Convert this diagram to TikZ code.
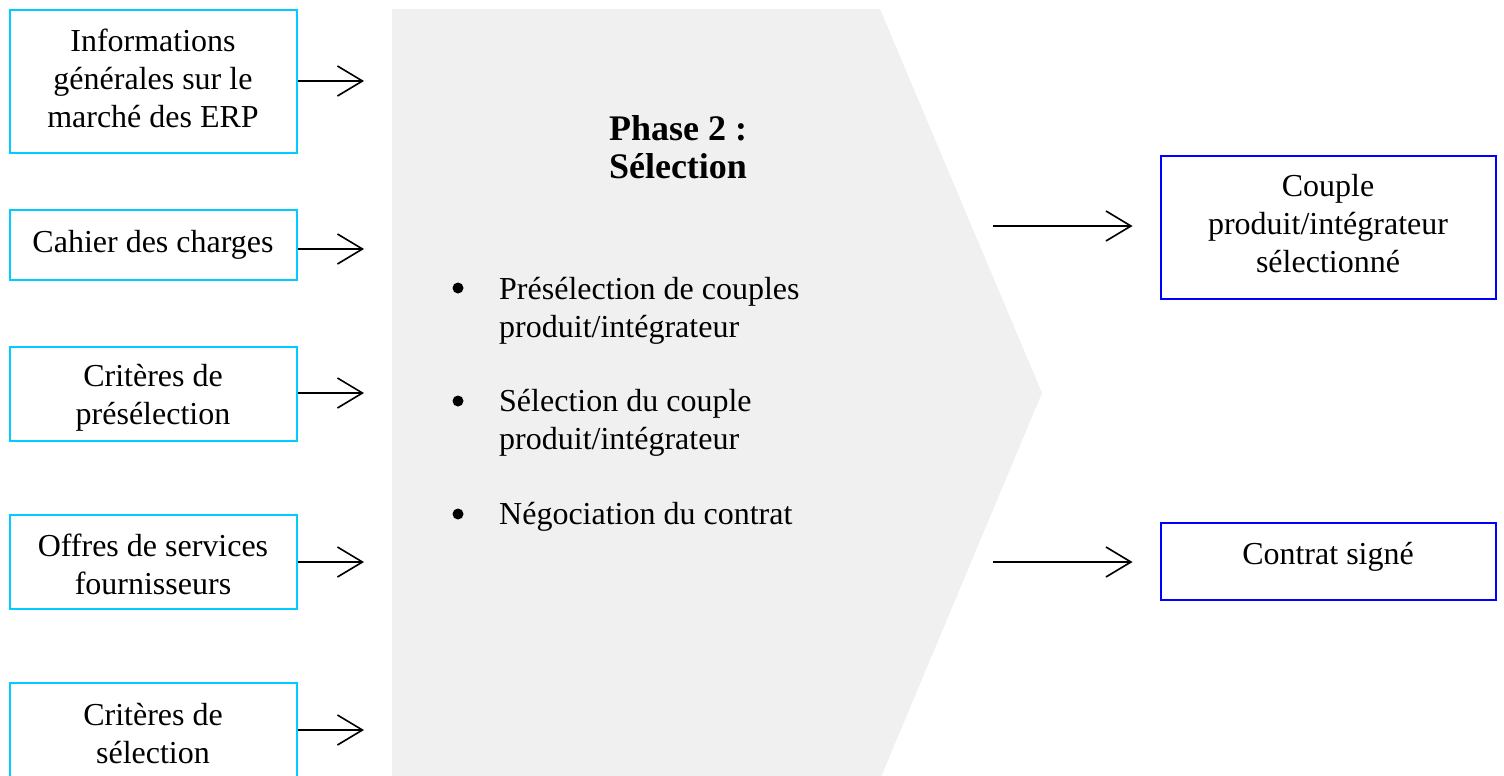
\documentclass[tikz,border=0pt]{standalone}
\usepackage{fontspec}
\setmainfont{Liberation Serif}
\usetikzlibrary{arrows.meta}

\definecolor{cinbox}{RGB}{0,204,255}
\definecolor{coutbox}{RGB}{0,0,255}
\definecolor{cphase}{RGB}{240,240,240}

% multi-line text blocks whose reference point is the first baseline
\newcommand{\stackc}[1]{\begin{tabular}[t]{@{}c@{}}#1\end{tabular}}
\newcommand{\stackl}[1]{\begin{tabular}[t]{@{}l@{}}#1\end{tabular}}

\tikzset{
  inputbox/.style={rectangle, draw=cinbox, line width=2pt, minimum width=287pt, inner sep=0pt},
  outputbox/.style={rectangle, draw=coutbox, line width=2pt, minimum width=335pt, inner sep=0pt},
  txt/.style={inner sep=0pt, anchor=base, font=\fontsize{32}{38}\selectfont},
  itemtxt/.style={inner sep=0pt, anchor=base west, font=\fontsize{32}{38}\selectfont},
  titletxt/.style={inner sep=0pt, anchor=base, font=\fontsize{36}{38}\selectfont\bfseries},
  bulletdot/.style={circle, fill=black, inner sep=0pt, minimum size=11pt},
  flow/.style={line width=1.6pt, -{Straight Barb[length=25pt,width=30pt]}},
}

\begin{document}
\begin{tikzpicture}[x=1pt, y=-1pt]
\useasboundingbox (0,0) rectangle (1504,776);
\clip (0,0) rectangle (1504,776);

% phase chevron
\fill[cphase] (392,9) -- (880,9) -- (1042,393) -- (881,777) -- (392,777) -- cycle;

% inputs
\node[inputbox, minimum height=142pt] (in1) at (153,81.5) {};
\node[inputbox, minimum height=70pt]  (in2) at (153,244.5) {};
\node[inputbox, minimum height=94pt]  (in3) at (153,393.5) {};
\node[inputbox, minimum height=94pt]  (in4) at (153,561.5) {};
\node[inputbox, minimum height=120pt] (in5) at (153,743) {};

\node[txt] (in1t) at (153,52)  {\stackc{Informations\\générales sur le\\marché des ERP}};
\node[txt] (in2t) at (153,252) {Cahier des charges};
\node[txt] (in3t) at (153,386) {\stackc{Critères de\\présélection}};
\node[txt] (in4t) at (153,556) {\stackc{Offres de services\\fournisseurs}};
\node[txt] (in5t) at (153,725) {\stackc{Critères de\\sélection}};

% phase content
\node[titletxt] (title) at (678,140) {\stackc{Phase 2 :\\Sélection}};

\node[bulletdot] (b1) at (458,288) {};
\node[bulletdot] (b2) at (458,401) {};
\node[bulletdot] (b3) at (458,514) {};
\node[itemtxt] (i1) at (499,299) {\stackl{Présélection de couples\\produit/intégrateur}};
\node[itemtxt] (i2) at (499,411) {\stackl{Sélection du couple\\produit/intégrateur}};
\node[itemtxt] (i3) at (499,524) {Négociation du contrat};

% outputs
\node[outputbox, minimum height=143pt] (out1) at (1328,227) {};
\node[outputbox, minimum height=77pt]  (out2) at (1328,561) {};
\node[txt] (out1t) at (1328,196) {\stackc{Couple\\produit/intégrateur\\sélectionné}};
\node[txt] (out2t) at (1328,564) {Contrat signé};

% arrows into the phase
\coordinate (t1) at (364,81);
\coordinate (t2) at (364,249);
\coordinate (t3) at (364,393);
\coordinate (t4) at (364,562);
\coordinate (t5) at (364,730);
\draw[flow] (in1.east |- t1) -- (t1);
\draw[flow] (in2.east |- t2) -- (t2);
\draw[flow] (in3.east |- t3) -- (t3);
\draw[flow] (in4.east |- t4) -- (t4);
\draw[flow] (in5.east |- t5) -- (t5);

% arrows out of the phase
\coordinate (s1) at (993,226);
\coordinate (s2) at (993,562);
\coordinate (e1) at ([xshift=-27pt]out1.west);
\coordinate (e2) at ([xshift=-27pt]out2.west);
\draw[flow] (s1) -- (e1 |- s1);
\draw[flow] (s2) -- (e2 |- s2);
\end{tikzpicture}
\end{document}
